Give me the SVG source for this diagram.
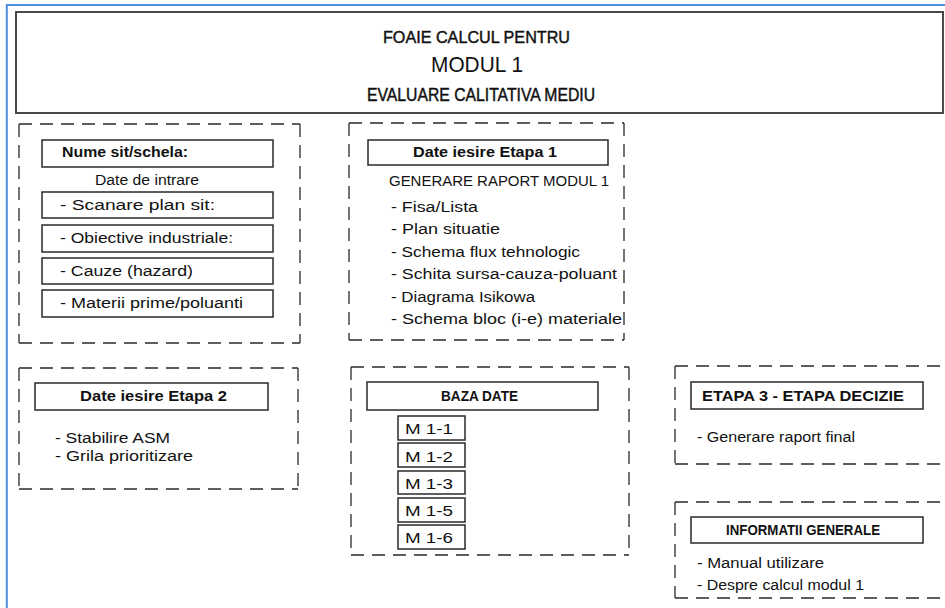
<svg xmlns="http://www.w3.org/2000/svg" width="945" height="608" viewBox="0 0 945 608">
<style>
  .bg { fill: #ffffff; }
  .frame { stroke: #4f8fe0; stroke-width: 2; fill: none; }
  .hdr { fill: none; stroke: #4a4a4a; stroke-width: 2; }
  .dash { fill: none; stroke: #2a2a2a; stroke-width: 1.3; stroke-dasharray: 13 8; }
  .box { fill: #ffffff; stroke: #2a2a2a; stroke-width: 1.5; }
  text { font-family: "Liberation Sans", Arial, sans-serif; fill: #111111; }
  .t { font-size: 14px; }
  .b { font-size: 14px; font-weight: bold; }
  .bs { font-size: 14px; font-weight: bold; }
  .hb { stroke: #111111; stroke-width: 0.45; }
</style>
<rect class="bg" x="0" y="0" width="945" height="608"/>
<path class="frame" d="M6.8 608 V5 H945"/>

<g id="header">
  <rect class="hdr" x="16" y="12" width="927" height="101"/>
  <text class="hb" x="383" y="43" font-size="17" textLength="187" lengthAdjust="spacingAndGlyphs">FOAIE CALCUL PENTRU</text>
  <text x="431" y="72" font-size="22" textLength="92" lengthAdjust="spacingAndGlyphs">MODUL 1</text>
  <text class="hb" x="367" y="101" font-size="18" textLength="228" lengthAdjust="spacingAndGlyphs">EVALUARE CALITATIVA MEDIU</text>
</g>

<g id="nume-sit">
  <path class="dash" d="M19 124 H300 M300 124 V343 M19 124 V343 M19 343 H300"/>
  <rect class="box" x="42" y="140" width="231" height="27"/>
  <text class="b" x="62" y="157" textLength="126" lengthAdjust="spacingAndGlyphs">Nume sit/schela:</text>
  <text class="t" x="95" y="185" textLength="104" lengthAdjust="spacingAndGlyphs">Date de intrare</text>
  <rect class="box" x="42" y="192" width="231" height="26"/>
  <text class="t" x="60" y="210" textLength="155" lengthAdjust="spacingAndGlyphs">- Scanare plan sit:</text>
  <rect class="box" x="42" y="225" width="231" height="27"/>
  <text class="t" x="60" y="243" textLength="173" lengthAdjust="spacingAndGlyphs">- Obiective industriale:</text>
  <rect class="box" x="42" y="258" width="231" height="26"/>
  <text class="t" x="60" y="276" textLength="133" lengthAdjust="spacingAndGlyphs">- Cauze (hazard)</text>
  <rect class="box" x="42" y="290" width="231" height="27"/>
  <text class="t" x="60" y="308" textLength="183" lengthAdjust="spacingAndGlyphs">- Materii prime/poluanti</text>
</g>

<g id="etapa1">
  <path class="dash" d="M349 123 H624 M624 123 V340 M349 123 V340 M349 340 H624"/>
  <rect class="box" x="368" y="140" width="240" height="25"/>
  <text class="b" x="413" y="157" textLength="144" lengthAdjust="spacingAndGlyphs">Date iesire Etapa 1</text>
  <text class="t" x="389" y="186" textLength="220" lengthAdjust="spacingAndGlyphs">GENERARE RAPORT MODUL 1</text>
  <text class="t" x="391" y="211.5" textLength="87" lengthAdjust="spacingAndGlyphs">- Fisa/Lista</text>
  <text class="t" x="391" y="234" textLength="109" lengthAdjust="spacingAndGlyphs">- Plan situatie</text>
  <text class="t" x="391" y="256.5" textLength="189" lengthAdjust="spacingAndGlyphs">- Schema flux tehnologic</text>
  <text class="t" x="391" y="279" textLength="226" lengthAdjust="spacingAndGlyphs">- Schita sursa-cauza-poluant</text>
  <text class="t" x="391" y="301.5" textLength="144" lengthAdjust="spacingAndGlyphs">- Diagrama Isikowa</text>
  <text class="t" x="391" y="324" textLength="231" lengthAdjust="spacingAndGlyphs">- Schema bloc (i-e) materiale</text>
</g>

<g id="etapa2">
  <path class="dash" d="M19 368 H298 M298 368 V489 M19 368 V489 M19 489 H298"/>
  <rect class="box" x="35" y="383" width="233" height="27"/>
  <text class="b" x="80" y="401" textLength="147" lengthAdjust="spacingAndGlyphs">Date iesire Etapa 2</text>
  <text class="t" x="55" y="443" textLength="115" lengthAdjust="spacingAndGlyphs">- Stabilire ASM</text>
  <text class="t" x="55" y="461" textLength="138" lengthAdjust="spacingAndGlyphs">- Grila prioritizare</text>
</g>

<g id="baza-date">
  <path class="dash" d="M351 367 H629 M629 367 V555 M351 367 V555 M351 555 H629"/>
  <rect class="box" x="367" y="382" width="231" height="28"/>
  <text class="bs" x="441" y="401" font-size="15" textLength="77" lengthAdjust="spacingAndGlyphs">BAZA DATE</text>
  <g id="m1-1">
    <rect class="box" x="398" y="416" width="67" height="24"/>
    <text class="t" x="405" y="434" textLength="48" lengthAdjust="spacingAndGlyphs">M 1-1</text>
  </g>
  <g id="m1-2">
    <rect class="box" x="398" y="443" width="67" height="24"/>
    <text class="t" x="405" y="461.5" textLength="48" lengthAdjust="spacingAndGlyphs">M 1-2</text>
  </g>
  <g id="m1-3">
    <rect class="box" x="398" y="471" width="67" height="23"/>
    <text class="t" x="405" y="488.5" textLength="48" lengthAdjust="spacingAndGlyphs">M 1-3</text>
  </g>
  <g id="m1-5">
    <rect class="box" x="398" y="498" width="67" height="24"/>
    <text class="t" x="405" y="515.5" textLength="48" lengthAdjust="spacingAndGlyphs">M 1-5</text>
  </g>
  <g id="m1-6">
    <rect class="box" x="398" y="525" width="67" height="24"/>
    <text class="t" x="405" y="542.5" textLength="48" lengthAdjust="spacingAndGlyphs">M 1-6</text>
  </g>
</g>

<g id="etapa3">
  <path class="dash" d="M675 366 H950 M675 366 V464 M675 464 H950"/>
  <rect class="box" x="691" y="382" width="232" height="27"/>
  <text class="bs" x="702" y="401" textLength="202" lengthAdjust="spacingAndGlyphs">ETAPA 3 - ETAPA DECIZIE</text>
  <text class="t" x="697" y="442" textLength="158" lengthAdjust="spacingAndGlyphs">- Generare raport final</text>
</g>

<g id="informatii">
  <path class="dash" d="M675 502 H950 M675 502 V598 M675 598 H950"/>
  <rect class="box" x="691" y="517" width="232" height="26"/>
  <text class="bs" x="726" y="535" textLength="154" lengthAdjust="spacingAndGlyphs">INFORMATII GENERALE</text>
  <text class="t" x="697" y="568" textLength="127" lengthAdjust="spacingAndGlyphs">- Manual utilizare</text>
  <text class="t" x="697" y="590" textLength="167" lengthAdjust="spacingAndGlyphs">- Despre calcul modul 1</text>
</g>

<g id="connectors"/>
</svg>
